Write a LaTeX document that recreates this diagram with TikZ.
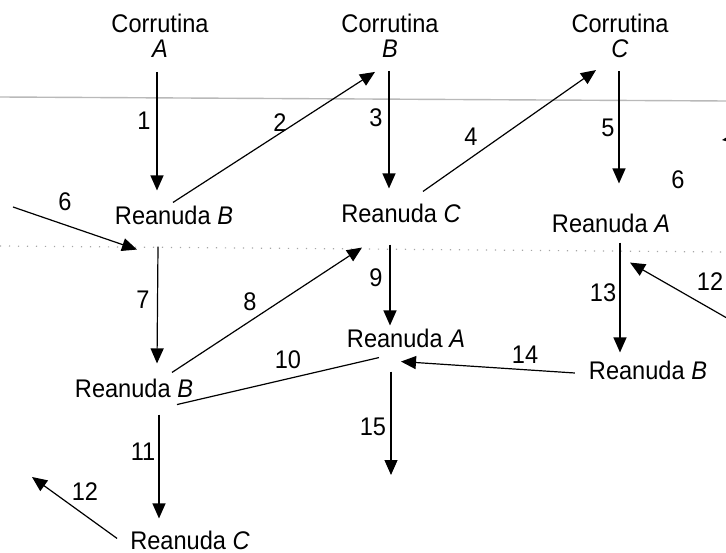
\documentclass[tikz,border=0pt]{standalone}
\usepackage{fontspec}
\setmainfont[FakeStretch=0.925]{Liberation Sans}
\usetikzlibrary{arrows.meta}
\begin{document}
\begin{tikzpicture}[x=1pt, y=-1pt, every node/.style={font=\fontsize{25.5}{25}\selectfont, inner sep=0pt}]
  \tikzstyle{cor}=[align=center]
  \tikzstyle{go}=[-{Triangle[width=13pt,length=15pt]}, line width=1.2pt]
  \useasboundingbox (0,0) rectangle (726,553);
  \clip (0,0) rectangle (726,553);
  % marks of the page
  \draw[line width=1.4pt, gray!55] (0,97) -- (726,101);
  \draw[line width=1.2pt, gray!70, dash pattern=on 1.2pt off 7.8pt] (0,246) -- (726,252);
  % coroutines
  \node[cor] (corA) at (160,36) {Corrutina\\\textit{A}};
  \node[cor] (corB) at (390,36) {Corrutina\\\textit{B}};
  \node[cor] (corC) at (620,36) {Corrutina\\\textit{C}};
  % resumes
  \node (resB1) at (174,215) {Reanuda \textit{B}};
  \node (resC1) at (401,213) {Reanuda \textit{C}};
  \node (resA1) at (611,223) {Reanuda \textit{A}};
  \node (resA2) at (406,338) {Reanuda \textit{A}};
  \node (resB2) at (134,388) {Reanuda \textit{B}};
  \node (resB3) at (648,370) {Reanuda \textit{B}};
  \node (resC2) at (190,540) {Reanuda \textit{C}};
  % free ends
  \coordinate (in6) at (13,207);
  \coordinate (out6) at (770,134);
  \coordinate (in12) at (760,337);
  \coordinate (out12) at (32,477);
  \coordinate (out15) at (391,475);
  % transfers
  \draw[go] ([shift={(-3,14)}]corA.south) -- ([shift={(-17,-15)}]resB1.north);
  \draw[go] ([shift={(-1,-3)}]resB1.north) -- ([shift={(-15,14)}]corB.south);
  \draw[go] ([shift={(-1,13)}]corB.south) -- ([shift={(-12,-15)}]resC1.north);
  \draw[go] ([shift={(22,-12)}]resC1.north) -- ([shift={(-24,12)}]corC.south);
  \draw[go] ([shift={(-1,13)}]corC.south) -- ([shift={(8,-30)}]resA1.north);
  \draw[go] (out6) -- (722,140);
  \draw[go] (in6) -- ([shift={(-37,25)}]resB1.south);
  \draw[go] ([shift={(-16,22)}]resB1.south) -- ([shift={(23,-15)}]resB2.north);
  \draw[go] ([shift={(38,-6)}]resB2.north) -- ([shift={(-39,25)}]resC1.south);
  \draw[go] ([shift={(-11,22)}]resC1.south) -- ([shift={(-16,-3)}]resA2.north);
  \draw[line width=1.2pt] ([shift={(43,7)}]resB2.south) -- ([shift={(-27,10)}]resA2.south);
  \draw[go] ([shift={(9,10)}]resA1.south) -- ([shift={(-28,-8)}]resB3.north);
  \draw[go] (in12) -- ([shift={(19,30)}]resA1.south);
  \draw[go] ([shift={(-14,3)}]resB3.west) -- ([shift={(-5,14)}]resA2.south);
  \draw[go] ([shift={(-15,24)}]resA2.south) -- (out15);
  \draw[go] ([shift={(25,17)}]resB2.south) -- ([shift={(-31,-12)}]resC2.north);
  \draw[go] ([shift={(-13,8)}]resC2.north west) -- (out12);
  % step numbers
  \node (n1) at (144,121) {1};
  \node (n2) at (280,123) {2};
  \node (n3) at (376,118) {3};
  \node (n4) at (471,137) {4};
  \node (n5) at (608,128) {5};
  \node (n6a) at (65,202) {6};
  \node (n6b) at (678,180) {6};
  \node (n7) at (143,300) {7};
  \node (n8) at (250,302) {8};
  \node (n9) at (376,278) {9};
  \node (n10) at (288,360) {10};
  \node (n11) at (143,452) {11};
  \node (n12a) at (85,492) {12};
  \node (n12b) at (710,282) {12};
  \node (n13) at (603,293) {13};
  \node (n14) at (525,355) {14};
  \node (n15) at (373,427) {15};
\end{tikzpicture}
\end{document}
